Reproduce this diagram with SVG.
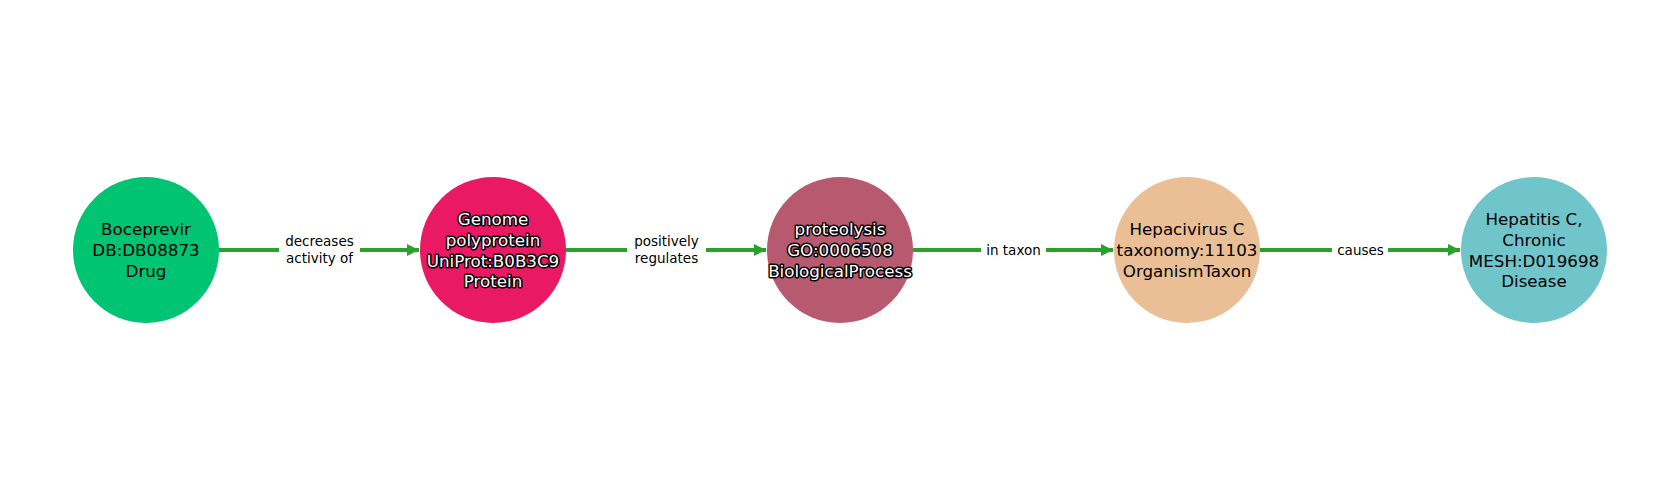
<svg xmlns="http://www.w3.org/2000/svg" width="1680" height="500" viewBox="0 0 1680 500">
<style>
.edge{stroke:#2ca02c;stroke-width:4;fill:none}
.lblbg{fill:#ffffff}
.lbl{font-family:"DejaVu Sans",sans-serif;font-size:13.5px;fill:#000;text-anchor:middle;dominant-baseline:central}
.nt{font-family:"DejaVu Sans",sans-serif;font-size:16.7px;fill:#000;text-anchor:middle;dominant-baseline:central}
.ntw{font-family:"DejaVu Sans",sans-serif;font-size:16.7px;fill:#fff;stroke:#000;stroke-width:3;stroke-linejoin:round;paint-order:stroke;text-anchor:middle;dominant-baseline:central}
</style>
<defs>
<marker id="arr" viewBox="0 0 10 10" refX="10" refY="5" markerWidth="3" markerHeight="3" markerUnits="strokeWidth" orient="auto">
<path d="M0,0 L10,5 L0,10 z" fill="#2ca02c"/>
</marker>
</defs>
<rect width="1680" height="500" fill="#ffffff"/>
<g id="connectors">
<line class="edge" x1="219" y1="250" x2="419" y2="250" marker-end="url(#arr)"/>
<rect class="lblbg" x="279" y="231" width="81" height="38"/>
<text class="lbl" x="319.5" y="241">decreases</text>
<text class="lbl" x="319.5" y="257.5">activity of</text>
<line class="edge" x1="566" y1="250" x2="766" y2="250" marker-end="url(#arr)"/>
<rect class="lblbg" x="627" y="231" width="79" height="38"/>
<text class="lbl" x="666.5" y="241">positively</text>
<text class="lbl" x="666.5" y="257.5">regulates</text>
<line class="edge" x1="913" y1="250" x2="1113" y2="250" marker-end="url(#arr)"/>
<rect class="lblbg" x="981" y="240" width="65" height="20"/>
<text class="lbl" x="1013.5" y="249.5">in taxon</text>
<line class="edge" x1="1260" y1="250" x2="1460" y2="250" marker-end="url(#arr)"/>
<rect class="lblbg" x="1332" y="240" width="56" height="20"/>
<text class="lbl" x="1360.5" y="249.5">causes</text>
</g>
<g id="node-drug">
<circle cx="146" cy="250" r="73" fill="#00c472"/>
<text class="nt" x="146" y="228.5">Boceprevir</text>
<text class="nt" x="146" y="249.5">DB:DB08873</text>
<text class="nt" x="146" y="270.5">Drug</text>
</g>
<g id="node-protein">
<circle cx="493" cy="250" r="73" fill="#e91a63"/>
<text class="ntw" x="493" y="218.5">Genome</text>
<text class="ntw" x="493" y="239.5">polyprotein</text>
<text class="ntw" x="493" y="260.5">UniProt:B0B3C9</text>
<text class="ntw" x="493" y="281">Protein</text>
</g>
<g id="node-process">
<circle cx="840" cy="250" r="73" fill="#b75a6f"/>
<text class="ntw" x="840" y="228.5">proteolysis</text>
<text class="ntw" x="840" y="249.5">GO:0006508</text>
<text class="ntw" x="840" y="270.5">BiologicalProcess</text>
</g>
<g id="node-taxon">
<circle cx="1187" cy="250" r="73" fill="#eabf96"/>
<text class="nt" x="1187" y="228.5">Hepacivirus C</text>
<text class="nt" x="1187" y="249.5">taxonomy:11103</text>
<text class="nt" x="1187" y="270.5">OrganismTaxon</text>
</g>
<g id="node-disease">
<circle cx="1534" cy="250" r="73" fill="#70c5cb"/>
<text class="nt" x="1534" y="218.5">Hepatitis C,</text>
<text class="nt" x="1534" y="239.5">Chronic</text>
<text class="nt" x="1534" y="260.5">MESH:D019698</text>
<text class="nt" x="1534" y="281">Disease</text>
</g>
</svg>
